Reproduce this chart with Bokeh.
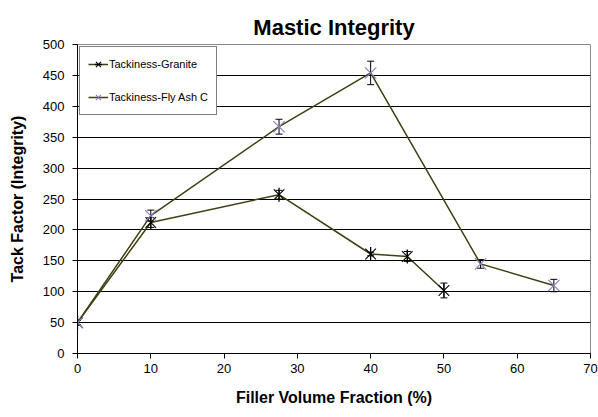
import math
from bokeh.plotting import figure
from bokeh.models import ColumnDataSource, Whisker, TeeHead, Range1d, FixedTicker, Title
from bokeh.embed import file_html
from bokeh.resources import INLINE

# Data
granite_x = [0, 10, 27.5, 40, 45, 50]
granite_y = [50, 212, 257, 161, 157, 102]
granite_err = [4, 8, 7, 3, 8, 12]

flyash_x = [0, 10, 27.5, 40, 55, 65]
flyash_y = [50, 223, 367, 454, 145, 110]
flyash_err = [4, 9, 12, 19, 7, 10]

x_ticks = [0, 10, 20, 30, 40, 50, 60, 70]
y_ticks = [0, 50, 100, 150, 200, 250, 300, 350, 400, 450, 500]

FONT = "Liberation Sans"
LINE_COLOR = "#3f3f12"

p = figure(width=598, height=417, output_backend="svg", toolbar_location=None,
           x_range=Range1d(0, 70), y_range=Range1d(0, 500),
           min_border_left=77, min_border_right=8, min_border_top=44, min_border_bottom=64)

p.title = Title(text="Mastic Integrity", align="center", text_font=FONT,
                text_font_size="22px", text_font_style="bold", text_color="black",
                offset=0)

gs = ColumnDataSource(dict(x=granite_x, y=granite_y,
                           up=[v + e for v, e in zip(granite_y, granite_err)],
                           lo=[v - e for v, e in zip(granite_y, granite_err)]))
fs = ColumnDataSource(dict(x=flyash_x, y=flyash_y,
                           up=[v + e for v, e in zip(flyash_y, flyash_err)],
                           lo=[v - e for v, e in zip(flyash_y, flyash_err)]))

p.line("x", "y", source=gs, line_color=LINE_COLOR, line_width=1.5, legend_label="Tackiness-Granite")
p.scatter("x", "y", source=gs, marker="x", size=15, line_color="black", line_width=1.1,
          legend_label="Tackiness-Granite")
p.scatter("x", "y", source=gs, marker="dash", angle=math.pi / 2, size=14, line_color="black",
          line_width=1.3, legend_label="Tackiness-Granite")
p.line("x", "y", source=fs, line_color=LINE_COLOR, line_width=1.5, legend_label="Tackiness-Fly Ash C")
p.scatter("x", "y", source=fs, marker="x", size=16, line_color="#8c7cc0", line_width=1.1,
          legend_label="Tackiness-Fly Ash C")

for src in (gs, fs):
    w = Whisker(source=src, base="x", upper="up", lower="lo", line_color="black", line_width=1,
                upper_head=TeeHead(size=7, line_color="black", line_width=1),
                lower_head=TeeHead(size=7, line_color="black", line_width=1))
    p.add_layout(w)

p.xaxis.ticker = FixedTicker(ticks=x_ticks)
p.yaxis.ticker = FixedTicker(ticks=y_ticks)
p.xaxis.axis_label = "Filler Volume Fraction (%)"
p.yaxis.axis_label = "Tack Factor (Integrity)"
for ax in (p.xaxis, p.yaxis):
    ax.axis_label_text_font = FONT
    ax.axis_label_text_font_size = "16px"
    ax.axis_label_text_font_style = "bold"
    ax.axis_label_text_color = "black"
    ax.major_label_text_font = FONT
    ax.major_label_text_font_size = "13px"
    ax.major_label_text_color = "black"
    ax.axis_line_color = "black"
    ax.major_tick_line_color = "black"
    ax.major_tick_out = 5
    ax.major_tick_in = 0
    ax.minor_tick_line_color = None
p.xaxis.axis_label_standoff = 13
p.yaxis.axis_label_standoff = 14
p.yaxis.major_label_standoff = 8

p.xgrid.grid_line_color = None
p.ygrid.grid_line_color = "black"
p.ygrid.grid_line_width = 1
p.outline_line_color = "#888888"

lg = p.legend[0]
lg.location = "top_left"
lg.margin = 2
lg.border_line_color = "black"
lg.border_line_width = 1
lg.background_fill_color = "white"
lg.background_fill_alpha = 1
lg.label_text_font = FONT
lg.label_text_font_size = "11px"
lg.label_text_color = "black"
lg.glyph_width = 20
lg.glyph_height = 18
lg.label_height = 18
lg.spacing = 15
lg.padding = 8
lg.label_standoff = 1

open("out.html", "w").write(file_html(p, INLINE))
